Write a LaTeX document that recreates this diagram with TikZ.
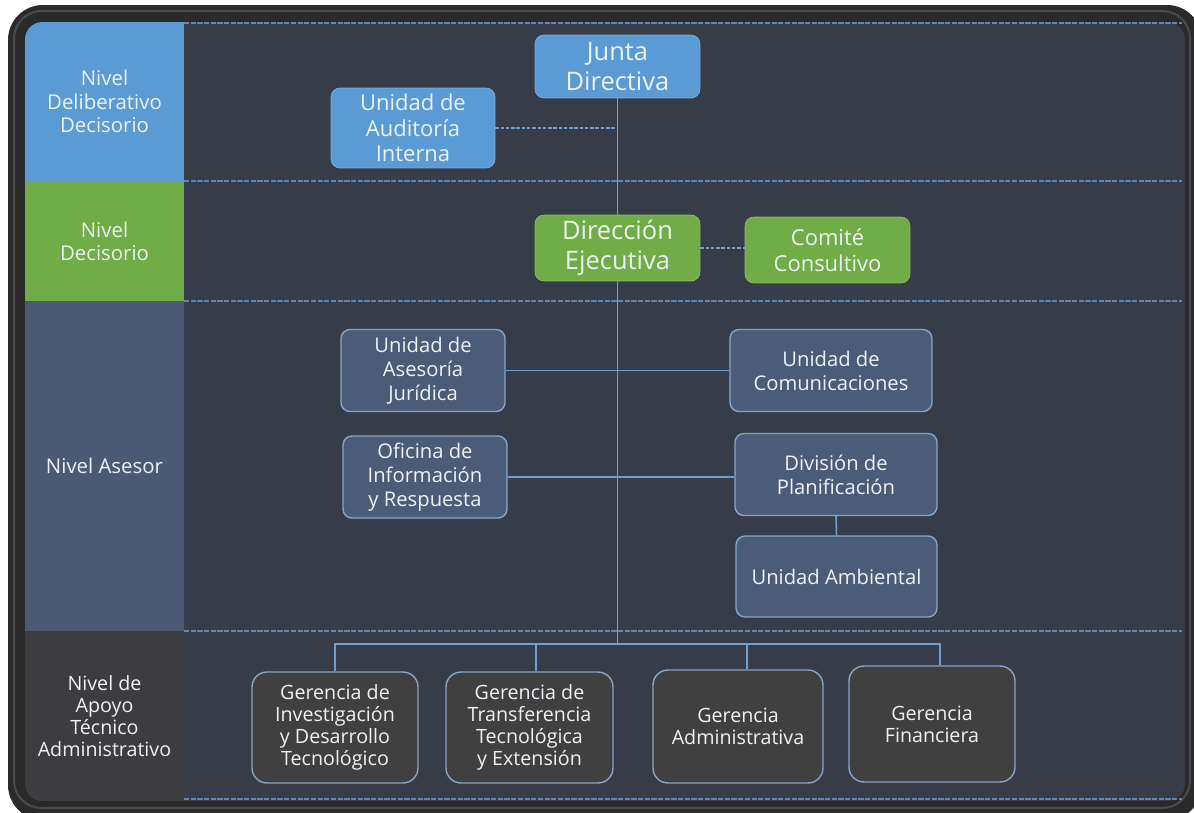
\documentclass[tikz,border=0pt]{standalone}
\usepackage{fontspec}
\setmainfont{Open Sans}
\usetikzlibrary{positioning}

\definecolor{panelbg}{HTML}{363C48}
\definecolor{framegray}{HTML}{2A2A2B}
\definecolor{framelite}{HTML}{4A4A4C}
\definecolor{lvlblue}{HTML}{5B9BD5}
\definecolor{lvlgreen}{HTML}{70AD47}
\definecolor{lvlslate}{HTML}{4A5A75}
\definecolor{lvldark}{HTML}{3D3D3F}
\definecolor{boxslate}{HTML}{4B5C78}
\definecolor{boxdark}{HTML}{404041}
\definecolor{edgeblue}{HTML}{86A6C8}
\definecolor{linkblue}{HTML}{6F9FD0}
\definecolor{sepblue}{HTML}{5A86B8}
\definecolor{txt}{HTML}{EEF1F5}

\begin{document}
\begin{tikzpicture}[
    x=0.02cm, y=-0.02cm,
    lvl/.style={minimum width=3.18cm, inner sep=0pt, align=center, text=txt,
                font=\fontsize{11.6}{13.2}\selectfont},
    unit/.style={rounded corners=0.18cm, align=center, text=txt, inner sep=2pt},
    bigunit/.style={unit, draw=#1!80!white, fill=#1, minimum width=3.3cm,
                    font=\fontsize{14.5}{16.8}\selectfont},
    midunit/.style={unit, draw=#1!80!white, fill=#1, minimum width=3.3cm,
                    font=\fontsize{12.5}{14.6}\selectfont},
    asesunit/.style={unit, draw=edgeblue, line width=0.8pt, fill=boxslate,
                     minimum height=1.64cm, font=\fontsize{11.5}{13.6}\selectfont},
    gerunit/.style={unit, rounded corners=0.3cm, draw=edgeblue, line width=0.8pt,
                    fill=boxdark, font=\fontsize{11.2}{12.4}\selectfont},
    sep/.style={sepblue, line width=0.8pt, dash pattern=on 3pt off 0.8pt},
    link/.style={linkblue, line width=0.9pt},
    dlink/.style={link, dash pattern=on 2pt off 1pt}
  ]
  \fill[white] (0,0) rectangle (1194,812);
  \useasboundingbox (0,0) rectangle (1194,812);
  \fill[framegray, rounded corners=0.7cm] (8,5) rectangle (1202,820);
  \draw[framelite, line width=1.2pt, rounded corners=0.55cm] (14,11) rectangle (1190,808);
  \fill[panelbg, rounded corners=0.35cm] (25,22) rectangle (1185,801);

  \begin{scope}
    \clip[rounded corners=0.35cm] (25,22) rectangle (1185,801);
    \node[lvl, fill=lvlblue, minimum height=3.18cm] (deliberativo) at (104.5,101.5)
      {Nivel\\Deliberativo\\Decisorio};
    \node[lvl, fill=lvlgreen, minimum height=2.4cm] (decisorio) at (104.5,241)
      {Nivel\\Decisorio};
    \node[lvl, fill=lvlslate, minimum height=6.6cm] (asesor) at (104.5,466)
      {Nivel Asesor};
    \node[lvl, fill=lvldark, minimum height=3.4cm, font=\fontsize{11.2}{12.4}\selectfont]
      (apoyo) at (104.5,716) {Nivel de\\Apoyo\\Técnico\\Administrativo};
  \end{scope}

  \foreach \yy in {23,181,301,631,799}
    \draw[sep] (184,\yy) -- (1182,\yy);

  \node[bigunit=lvlblue, minimum height=1.26cm] (junta) at (617.5,66.5) {Junta\\Directiva};
  \node[midunit=lvlblue, minimum width=3.28cm, minimum height=1.6cm] (auditoria)
    at (413,128) {Unidad de\\Auditoría\\Interna};
  \node[bigunit=lvlgreen, minimum height=1.32cm] (direccion) at (617.5,248)
    {Dirección\\Ejecutiva};
  \node[midunit=lvlgreen, minimum height=1.32cm] (comite) at (827.5,250)
    {Comité\\Consultivo};

  \node[asesunit, minimum width=3.28cm] (juridica) at (423,370.5)
    {Unidad de\\Asesoría\\Jurídica};
  \node[asesunit, minimum width=4.04cm] (comunicaciones) at (831,370.5)
    {Unidad de\\Comunicaciones};
  \node[asesunit, minimum width=3.28cm] (oficina) at (425,477)
    {Oficina de\\Información\\y Respuesta};
  \node[asesunit, minimum width=4.04cm] (planificacion) at (836,474.5)
    {División de\\Planificación};
  \node[asesunit, minimum width=4.02cm, minimum height=1.62cm] (ambiental)
    at (836.5,576.5) {Unidad Ambiental};

  \node[gerunit, minimum width=3.32cm, minimum height=2.22cm] (gerinv) at (335,727.5)
    {Gerencia de\\Investigación\\y Desarrollo\\Tecnológico};
  \node[gerunit, minimum width=3.34cm, minimum height=2.22cm] (gertrans) at (529.5,727.5)
    {Gerencia de\\Transferencia\\Tecnológica\\y Extensión};
  \node[gerunit, minimum width=3.4cm, minimum height=2.26cm] (geradm) at (738,726.5)
    {Gerencia\\Administrativa};
  \node[gerunit, minimum width=3.32cm, minimum height=2.32cm] (gerfin) at (932,724)
    {Gerencia\\Financiera};

  \coordinate (bus) at (direccion.south |- 0,644);

  \draw[link] (junta.south) -- (direccion.north);
  \draw[dlink] (auditoria.east) -- (auditoria.east -| junta.south);
  \draw[dlink] (direccion.east) -- (direccion.east -| comite.west);
  \draw[link] (direccion.south) -- (bus);
  \draw[link] (juridica.east) -- (comunicaciones.west);
  \draw[link] (oficina.east) -- (oficina.east -| planificacion.west);
  \draw[link] (planificacion.south) -- (ambiental.north);
  \draw[link] (gerinv.north) |- (bus) -| ([xshift=0.16cm]gerfin.north);
  \draw[link] ([xshift=0.13cm]gertrans.north) -- ([xshift=0.13cm]gertrans.north |- bus);
  \draw[link] ([xshift=0.18cm]geradm.north) -- ([xshift=0.18cm]geradm.north |- bus);
\end{tikzpicture}
\end{document}
